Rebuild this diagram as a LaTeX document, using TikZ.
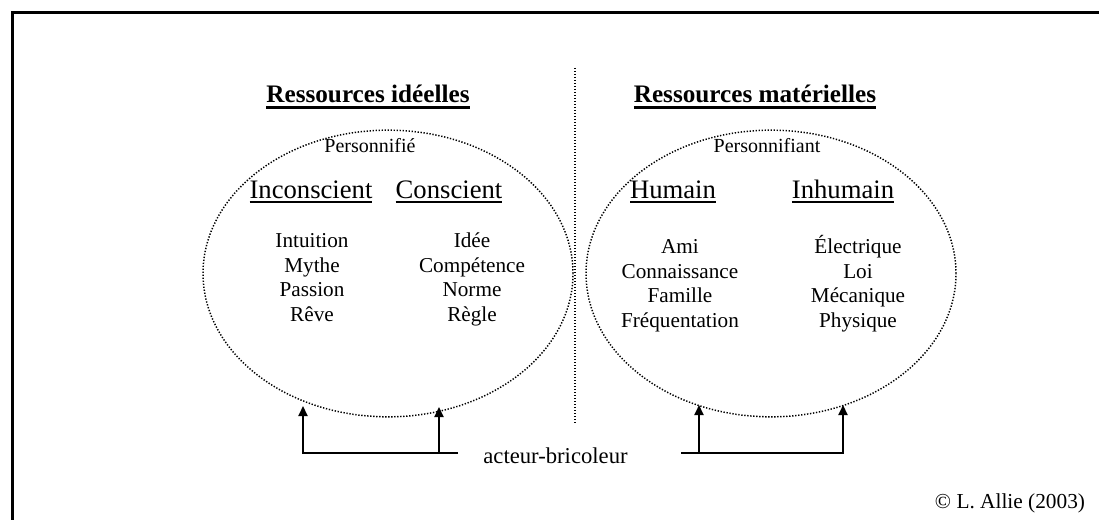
\documentclass[tikz,border=0pt]{standalone}
\usepackage{fontspec}
\setmainfont{Liberation Serif}
\usetikzlibrary{arrows.meta, shapes.geometric}

% underlined heading: text, gap below baseline, rule thickness
\newcommand{\ulbox}[3]{\vtop{\hbox{#1}\kern#2\hrule height#3}}
\newcommand{\ttlul}[1]{\ulbox{#1}{2.2pt}{1.9pt}}
\newcommand{\subul}[1]{\ulbox{#1}{1.3pt}{1.5pt}}

\begin{document}
\begin{tikzpicture}[
  x=0.75pt, y=-0.75pt,
  ttl/.style={font=\fontsize{18.9}{22}\selectfont\bfseries, anchor=base, inner sep=0pt},
  sub/.style={font=\fontsize{20}{24}\selectfont, anchor=base, inner sep=0pt},
  lbl/.style={font=\fontsize{15}{18}\selectfont, anchor=base, inner sep=0pt},
  itm/.style={font=\fontsize{15.9}{18.4}\selectfont, align=center, anchor=base, inner sep=0pt},
  res/.style={ellipse, draw, line width=1.1pt, dash pattern=on 1pt off 1.25pt,
              minimum width=277.5pt, minimum height=215pt, inner sep=0pt},
  sep/.style={line width=1.1pt, dash pattern=on 1pt off 1.25pt},
  lnk/.style={-{Triangle[width=6.75pt,length=7.5pt]}, line width=1.5pt},
]
\useasboundingbox (0,0) rectangle (1099,520);
\draw[line width=2.25pt] (1099,13) -| (12,520);

% divider
\draw[sep] (575,68) -- (575,425);

% the two kinds of resources
\node[res] (ideal) at (388,273.5) {};
\node[res] (mater) at (771,273.5) {};

\node[ttl] (tid) at (368,103) {\ttlul{Ressources idéelles}};
\node[ttl] (tma) at (755,103) {\ttlul{Ressources matérielles}};

\node[lbl] (pid) at (370,153) {Personnifié};
\node[lbl] (pma) at (767,153) {Personnifiant};

\node[sub] (inc) at (311,199) {\subul{Inconscient}};
\node[sub] (con) at (449,199) {\subul{Conscient}};
\node[sub] (hum) at (673,199) {\subul{Humain}};
\node[sub] (inh) at (843,199) {\subul{Inhumain}};

% lists (base is the last line)
\node[itm] (linc) at (312,321.5) {Intuition\\Mythe\\Passion\\Rêve};
\node[itm] (lcon) at (472,321.5) {Idée\\Compétence\\Norme\\Règle};
\node[itm] (lhum) at (680,327.5) {Ami\\Connaissance\\Famille\\Fréquentation};
\node[itm] (linh) at (858,327.5) {Électrique\\Loi\\Mécanique\\Physique};

% actor and its links
\node[font=\fontsize{17}{20}\selectfont, anchor=base, inner sep=0pt] (actor) at (555.5,463) {acteur-bricoleur};
\coordinate (jl) at (458,453);
\coordinate (jr) at (681,453);
\coordinate (t1) at (303,406);
\coordinate (t2) at (439,407);
\coordinate (t3) at (699,405);
\coordinate (t4) at (843,405);
\draw[lnk] (jl) -| (t1);
\draw[lnk] (t2 |- jl) -- (t2);
\draw[lnk] (jr) -| (t4);
\draw[lnk] (t3 |- jr) -- (t3);

\node[font=\fontsize{16}{19}\selectfont, anchor=base, inner sep=0pt] (copy) at (1010,508) {© L. Allie (2003)};
\end{tikzpicture}
\end{document}
